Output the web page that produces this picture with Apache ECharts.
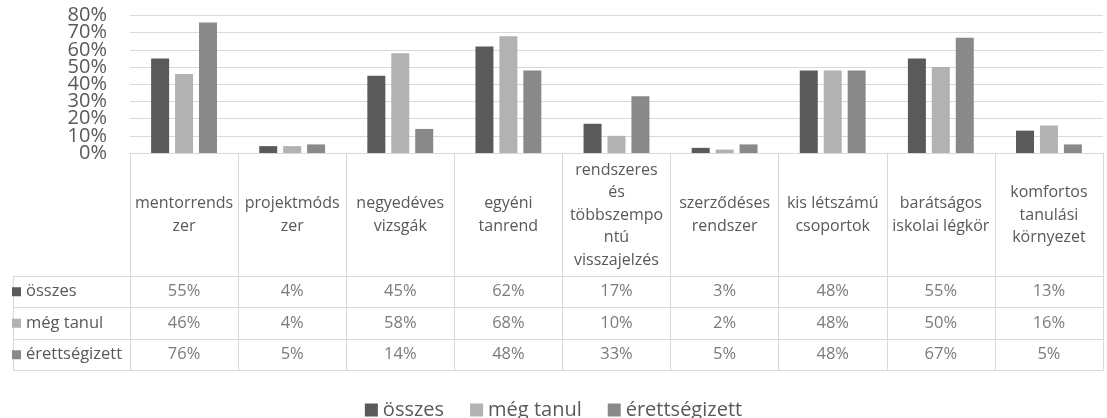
<!DOCTYPE html>
<html>
<head>
<meta charset="utf-8">
<script src="https://cdn.jsdelivr.net/npm/echarts@6/dist/echarts.min.js"></script>
<style>
  html, body { margin: 0; padding: 0; background: #fff; }
  #chart { width: 1107px; height: 418px; }
</style>
</head>
<body>
<div id="chart"></div>
<script>
// Category labels, wrapped the way they appear in the table header
const categories = [
  'mentorrends\nzer',
  'projektmóds\nzer',
  'negyedéves\nvizsgák',
  'egyéni\ntanrend',
  'rendszeres\nés\ntöbbszempo\nntú\nvisszajelzés',
  'szerződéses\nrendszer',
  'kis létszámú\ncsoportok',
  'barátságos\niskolai légkör',
  'komfortos\ntanulási\nkörnyezet'
];

const seriesNames = ['összes', 'még tanul', 'érettségizett'];

// Shares in percent
const osszes        = [55, 4, 45, 62, 17, 3, 48, 55, 13];
const megTanul      = [46, 4, 58, 68, 10, 2, 48, 50, 16];
const erettsegizett = [76, 5, 14, 48, 33, 5, 48, 67, 5];

const yTicks = { min: 0, max: 80, interval: 10 };

const colors = ['#5a5a5a', '#b2b2b2', '#898989'];
const values = [osszes, megTanul, erettsegizett];

const textColor = '#595959';
const lineColor = '#d9d9d9';
const font = "'Open Sans', sans-serif";

const chart = echarts.init(document.getElementById('chart'));

const barSeries = seriesNames.map((name, s) => ({
  name: name,
  type: 'bar',
  xAxisIndex: 0,
  yAxisIndex: 0,
  barWidth: 18,
  barGap: '33%',
  itemStyle: { color: colors[s] },
  data: values[s]
}));

// Table cells: one row per series, value printed in each category column
const tableSeries = seriesNames.map((name, s) => ({
  name: name,
  type: 'scatter',
  xAxisIndex: 1,
  yAxisIndex: 1,
  symbolSize: 0,
  silent: true,
  itemStyle: { color: colors[s] },
  label: {
    show: true,
    position: 'inside',
    formatter: p => p.value[2] + '%',
    color: textColor,
    fontFamily: font,
    fontSize: 16.5
  },
  data: values[s].map((v, i) => [i, s, v])
}));

// The percentage labels sit closer together than their glyph height, so the
// end labels and the inner labels are drawn by two overlaid value axes.
const percentLabel = {
  margin: 23,
  color: textColor,
  fontFamily: font,
  fontSize: 20
};

chart.setOption({
  animation: false,
  textStyle: { fontFamily: font },
  grid: [
    { left: 130, right: 4, top: 15.5, height: 137.5 },
    { left: 130, right: 4, top: 276, height: 94.5 }
  ],
  xAxis: [
    {
      type: 'category',
      gridIndex: 0,
      data: categories,
      axisLine: { show: true, lineStyle: { color: lineColor } },
      axisTick: { show: true, length: 123, lineStyle: { color: lineColor } },
      axisLabel: {
        interval: 0,
        margin: 62,
        verticalAlign: 'middle',
        color: textColor,
        fontFamily: font,
        fontSize: 16,
        lineHeight: 22.5
      }
    },
    {
      type: 'category',
      gridIndex: 1,
      data: categories,
      axisLine: { show: true, lineStyle: { color: lineColor } },
      axisTick: { show: false },
      axisLabel: { show: false },
      splitLine: { show: true, interval: 0, lineStyle: { color: lineColor } }
    }
  ],
  yAxis: [
    {
      type: 'value',
      gridIndex: 0,
      min: yTicks.min,
      max: yTicks.max,
      interval: yTicks.interval,
      axisLine: { show: false },
      axisTick: { show: false },
      splitLine: { lineStyle: { color: lineColor } },
      axisLabel: Object.assign({}, percentLabel, {
        showMinLabel: true,
        showMaxLabel: true,
        formatter: v => (v === yTicks.min || v === yTicks.max) ? v + '%' : ''
      })
    },
    {
      type: 'category',
      gridIndex: 1,
      inverse: true,
      data: seriesNames,
      axisLine: { show: true, lineStyle: { color: lineColor } },
      axisTick: { show: true, length: 117, lineStyle: { color: lineColor } },
      splitLine: { show: true, lineStyle: { color: lineColor } },
      axisLabel: {
        align: 'left',
        margin: 118,
        formatter: (v, i) => '{s' + i + '|}{t|' + v + '}',
        rich: {
          s0: { width: 9, height: 9, backgroundColor: colors[0] },
          s1: { width: 9, height: 9, backgroundColor: colors[1] },
          s2: { width: 9, height: 9, backgroundColor: colors[2] },
          t: { color: textColor, fontFamily: font, fontSize: 16.5, padding: [0, 0, 0, 5] }
        }
      }
    },
    {
      type: 'value',
      gridIndex: 1,
      position: 'left',
      offset: 117,
      axisLine: { show: true, lineStyle: { color: lineColor } },
      axisTick: { show: false },
      axisLabel: { show: false },
      splitLine: { show: false }
    },
    {
      type: 'value',
      gridIndex: 0,
      position: 'left',
      min: yTicks.min,
      max: yTicks.max,
      interval: yTicks.interval,
      axisLine: { show: false },
      axisTick: { show: false },
      splitLine: { show: false },
      axisLabel: Object.assign({}, percentLabel, {
        showMinLabel: false,
        showMaxLabel: false,
        formatter: '{value}%'
      })
    }
  ],
  legend: {
    data: seriesNames,
    left: 'center',
    top: 395,
    icon: 'rect',
    itemWidth: 13,
    itemHeight: 13,
    itemGap: 26,
    textStyle: { color: textColor, fontFamily: font, fontSize: 20 }
  },
  series: barSeries.concat(tableSeries)
});
</script>
</body>
</html>
